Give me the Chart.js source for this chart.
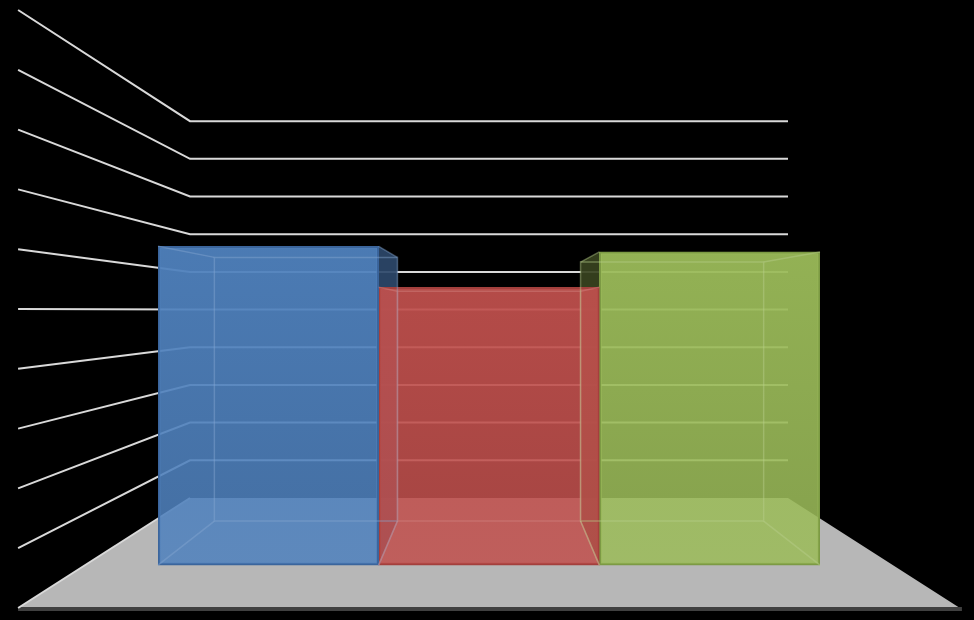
<!DOCTYPE html>
<html>
<head>
<meta charset="utf-8">
<script src="https://cdn.jsdelivr.net/npm/chart.js@4"></script>
<style>
  html, body { margin: 0; padding: 0; background: #000; }
  #wrap { width: 974px; height: 620px; position: relative; }
</style>
</head>
<body>
<div id="wrap"><canvas id="dash"></canvas></div>
<script>
const categories = ['Category 1'];
const series = ['Series 1', 'Series 2', 'Series 3'];
const values = [6.23, 5.43, 6.12];
const gridTicks = [0, 1, 2, 3, 4, 5, 6, 7, 8, 9, 10];

const colors = ['#4f81bd', '#c0504d', '#9bbb59'];
const borders = ['#3b659c', '#a3403d', '#7c9a44'];

// perspective: depth 0 = back wall, 1 = front edge of the floor
const DEPTH = { barBack: 0.21, barFront: 0.61 };
const FLOOR_GROW = 0.575;   // floor gets wider toward the front
const BAR_SPAN = 0.8196;    // part of the floor width the bars take
const BACK_MIN = -2.92, BACK_MAX = 12.95;  // back wall scale
const SIDE_MIN = 0, SIDE_MAX = 10;         // front edge of the left wall

function rgb(hex) {
  return [1, 3, 5].map(i => parseInt(hex.substr(i, 2), 16));
}
function rgba(hex, a, k = 1) {
  const c = rgb(hex).map(v => Math.round(Math.min(255, v * k)));
  return `rgba(${c[0]},${c[1]},${c[2]},${a})`;
}
function lighten(hex, a, m) {
  const c = rgb(hex).map(v => Math.round(v + (255 - v) * m));
  return `rgba(${c[0]},${c[1]},${c[2]},${a})`;
}

// range of the bar scale, so that it sits between back wall and front edge
function depthRange(t) {
  const r = BACK_MAX - BACK_MIN;
  const a = (1 - t) * (-BACK_MIN) / r;
  const b = (1 - t) / r + t / (SIDE_MAX - SIDE_MIN);
  return { min: -a / b, max: (1 - a) / b };
}
const barRange = depthRange(DEPTH.barFront);

function geometry(chart) {
  const { chartArea, scales } = chart;
  const cx = (chartArea.left + chartArea.right) / 2;
  const half = (chartArea.right - chartArea.left) / 2 / BAR_SPAN / (1 + FLOOR_GROW * DEPTH.barFront);
  const X = (u, t) => cx + u * half * (1 + FLOOR_GROW * t);
  const Y = (v, t) => {
    const b = scales.back.getPixelForValue(v);
    return b + t * (scales.side.getPixelForValue(v) - b);
  };
  const U = (x, t) => (x - cx) / (half * (1 + FLOOR_GROW * t));
  return { cx, X, Y, U };
}

function poly(ctx, pts) {
  ctx.beginPath();
  ctx.moveTo(pts[0][0], pts[0][1]);
  for (let i = 1; i < pts.length; i++) ctx.lineTo(pts[i][0], pts[i][1]);
  ctx.closePath();
}

function boxCorners(chart, i) {
  const { X, Y, U } = geometry(chart);
  const el = chart.getDatasetMeta(i).data[0];
  const { x, y, base, width } = el.getProps(['x', 'y', 'base', 'width'], true);
  const xl = x - width / 2, xr = x + width / 2;
  const uL = U(xl, DEPTH.barFront), uR = U(xr, DEPTH.barFront);
  const tb = DEPTH.barBack, v = values[i];
  return {
    xl, xr,
    FTL: [xl, y], FTR: [xr, y], FBL: [xl, base], FBR: [xr, base],
    BTL: [X(uL, tb), Y(v, tb)], BTR: [X(uR, tb), Y(v, tb)],
    BBL: [X(uL, tb), Y(0, tb)], BBR: [X(uR, tb), Y(0, tb)]
  };
}

const box3d = {
  id: 'box3d',
  beforeDatasetsDraw(chart) {
    const ctx = chart.ctx;
    const { cx, X, Y } = geometry(chart);
    ctx.save();

    // floor
    poly(ctx, [[X(-1, 0), Y(0, 0)], [X(1, 0), Y(0, 0)], [X(1, 1), Y(0, 1)], [X(-1, 1), Y(0, 1)]]);
    ctx.fillStyle = '#b7b7b7';
    ctx.fill();
    ctx.fillStyle = '#404040';
    ctx.fillRect(X(-1, 1), Y(0, 1) - 1, X(1, 1) - X(-1, 1) + 2, 4);

    // walls
    ctx.strokeStyle = '#d9d9d9';
    ctx.lineWidth = 2;
    gridTicks.forEach(v => {
      ctx.beginPath();
      ctx.moveTo(X(-1, 1), Y(v, 1));
      ctx.lineTo(X(-1, 0), Y(v, 0));
      if (v > 0) ctx.lineTo(X(1, 0), Y(v, 0));
      ctx.stroke();
    });

    // side faces of the boxes
    series.forEach((s, i) => {
      const c = boxCorners(chart, i);
      if (c.xr <= cx) {
        poly(ctx, [c.FTR, c.BTR, c.BBR, c.FBR]);
        ctx.fillStyle = rgba(colors[i], 0.92, 0.56);
        ctx.fill();
      } else if (c.xl >= cx) {
        poly(ctx, [c.FTL, c.BTL, c.BBL, c.FBL]);
        ctx.fillStyle = rgba(colors[i], 0.92, 0.36);
        ctx.fill();
      }
    });
    ctx.restore();
  },
  afterDatasetsDraw(chart) {
    const ctx = chart.ctx;
    ctx.save();
    ctx.lineWidth = 1.5;
    series.forEach((s, i) => {
      const c = boxCorners(chart, i);
      ctx.strokeStyle = lighten(colors[i], 0.45, 0.3);
      poly(ctx, [c.BTL, c.BTR, c.BBR, c.BBL]);
      ctx.stroke();
      [[c.FTL, c.BTL], [c.FTR, c.BTR], [c.FBL, c.BBL], [c.FBR, c.BBR]].forEach(([a, b]) => {
        ctx.beginPath();
        ctx.moveTo(a[0], a[1]);
        ctx.lineTo(b[0], b[1]);
        ctx.stroke();
      });
    });
    ctx.restore();
  }
};

function faceColor(i) {
  return (c) => {
    const chart = c.chart;
    if (!chart.chartArea) return rgba(colors[i], 0.88);
    const ys = chart.scales.y;
    const g = chart.ctx.createLinearGradient(0, ys.getPixelForValue(7), 0, ys.getPixelForValue(0));
    g.addColorStop(0, rgba(colors[i], 0.96));
    g.addColorStop(1, rgba(colors[i], 0.86));
    return g;
  };
}

let graf = new Chart(
  document.getElementById('dash'),
  {
    type: 'bar',
    plugins: [box3d],
    data: {
      labels: categories,
      datasets: series.map((name, i) => ({
        label: name,
        data: [values[i]],
        backgroundColor: faceColor(i),
        borderColor: borders[i],
        borderWidth: 2,
        borderSkipped: false,
        categoryPercentage: 1,
        barPercentage: 1
      }))
    },
    options: {
      animation: false,
      responsive: true,
      maintainAspectRatio: false,
      layout: { padding: { left: 158, right: 154, top: 10, bottom: 12 } },
      plugins: {
        legend: { display: false },
        tooltip: { enabled: false }
      },
      scales: {
        x: { display: false, offset: true },
        y: { display: false, min: barRange.min, max: barRange.max },
        side: { type: 'linear', position: 'left', display: false, min: SIDE_MIN, max: SIDE_MAX },
        back: { type: 'linear', position: 'left', display: false, min: BACK_MIN, max: BACK_MAX }
      }
    }
  }
);
</script>
</body>
</html>
